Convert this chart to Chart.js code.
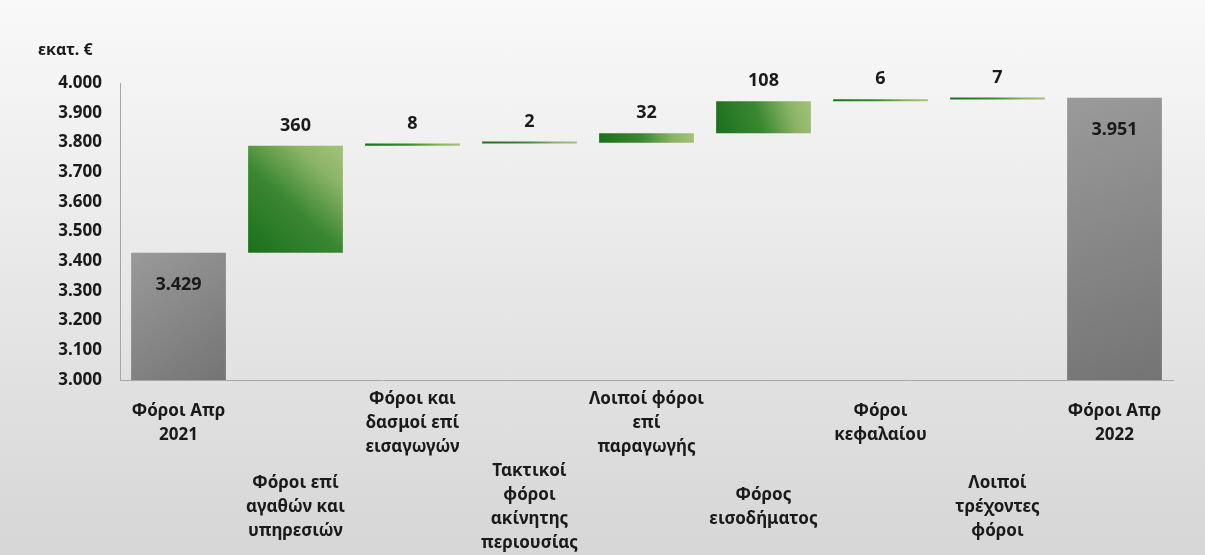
<!DOCTYPE html>
<html>
<head>
<meta charset="utf-8">
<script src="https://cdn.jsdelivr.net/npm/chart.js@4/dist/chart.umd.min.js"></script>
<style>
 body {margin:0; background:linear-gradient(to bottom,#f9f9f9,#d6d6d6);}
 #wrap {position:relative; width:1205px; height:555px;}
</style>
</head>
<body>
<div id="wrap"><canvas id="chartID"></canvas></div>
<script>
// values (εκατ. €)
var categories=[
 ['Φόροι Απρ','2021'],
 ['Φόροι επί','αγαθών και','υπηρεσιών'],
 ['Φόροι και','δασμοί επί','εισαγωγών'],
 ['Τακτικοί','φόροι','ακίνητης','περιουσίας'],
 ['Λοιποί φόροι','επί','παραγωγής'],
 ['Φόρος','εισοδήματος'],
 ['Φόροι','κεφαλαίου'],
 ['Λοιποί','τρέχοντες','φόροι'],
 ['Φόροι Απρ','2022']
];
var startTotal=3429;
var endTotal=3951;
var changes=[360,8,2,32,108,6,7];
var yMin=3000, yMax=4000, yStep=100;

// waterfall table: totals as plain bars, changes as floating [from,to]
var barData=[startTotal];
var run=startTotal;
for (var i=0; i<changes.length; i++) {barData.push([run,run+changes[i]]); run+=changes[i];}
barData.push(endTotal);
var valueLabels=[startTotal].concat(changes).concat([endTotal]);

// stagger: even labels on the upper row, odd ones lower
var BLANKS=7;
var tickLabels=categories.map(function(lines,i){
 if (i%2==0) {var out=lines.slice(); for (var k=0;k<BLANKS;k++) out.push(''); return out;}
 return lines;
});

var fnt='"Noto Sans", "DejaVu Sans", sans-serif';
var catPct=0.81;

function barFill(c) {
 var chart=c.chart, i=c.dataIndex;
 if (!chart.chartArea) return '#3d8a2e';
 var xs=chart.scales.x, ys=chart.scales.y, g;
 var cx=xs.getPixelForValue(i);
 var hw=xs.width/categories.length*catPct/2;
 var v=barData[i];
 if (!Array.isArray(v)) {
  g=chart.ctx.createLinearGradient(cx-hw,ys.getPixelForValue(v),cx+hw,ys.getPixelForValue(yMin));
  g.addColorStop(0,'#9a9a9a');
  g.addColorStop(1,'#747474');
  return g;
 }
 var top=ys.getPixelForValue(Math.max(v[0],v[1])), bot=ys.getPixelForValue(Math.min(v[0],v[1]));
 g=chart.ctx.createLinearGradient(cx-hw,bot,cx+hw,top);
 g.addColorStop(0,'#1c6f1c');
 g.addColorStop(0.45,'#3a8732');
 g.addColorStop(0.78,'#8bb466');
 g.addColorStop(1,'#a3c27b');
 return g;
}

var valuePlugin={
 id:'valuePlugin',
 afterDatasetsDraw:function(chart){
  var ctx=chart.ctx, meta=chart.getDatasetMeta(0);
  ctx.save();
  ctx.font='bold 18px '+fnt;
  ctx.fillStyle='#1a1a1a';
  ctx.textAlign='center';
  ctx.textBaseline='middle';
  meta.data.forEach(function(bar,i){
   var v=valueLabels[i];
   if (Array.isArray(barData[i])) {
    ctx.fillText(v.toLocaleString('de-DE'),bar.x,Math.min(bar.y,bar.base)-20);
   } else {
    ctx.fillText(v.toLocaleString('de-DE'),bar.x,bar.y+32);
   }
  });
  ctx.restore();
 }
};

var ctx=document.getElementById('chartID').getContext('2d');
var chart=new Chart(ctx,{
 type:'bar',
 data:{labels:tickLabels,datasets:[{data:barData,backgroundColor:barFill,borderWidth:0,minBarLength:2,
  categoryPercentage:catPct,barPercentage:1}]},
 options:{
  responsive:true, maintainAspectRatio:false, animation:false,
  layout:{padding:{left:38,right:32,top:0,bottom:0}},
  plugins:{
   legend:{display:false}, tooltip:{enabled:false},
   title:{display:true,text:'εκατ. €',align:'start',color:'#1a1a1a',
    font:{family:fnt,size:16,weight:'bold',lineHeight:1.2},padding:{top:41,bottom:23}}
  },
  scales:{
   x:{
    grid:{display:false,drawTicks:false},
    border:{display:true,color:'#a6a6a6',width:1},
    ticks:{color:'#1a1a1a',font:{family:fnt,size:17,weight:'bold',lineHeight:'24px'},
     crossAlign:'center',padding:19,maxRotation:0,minRotation:0,autoSkip:false},
    afterFit:function(s){s.height=175;}
   },
   y:{
    min:yMin,max:yMax,
    grid:{display:false,drawTicks:false},
    border:{display:true,color:'#a6a6a6',width:1},
    ticks:{stepSize:yStep,color:'#1a1a1a',padding:18,font:{family:fnt,size:17,weight:'bold'},
     callback:function(v){return v.toLocaleString('de-DE');}},
    afterFit:function(s){s.width=82;}
   }
  }
 },
 plugins:[valuePlugin]
});
</script>
</body>
</html>
